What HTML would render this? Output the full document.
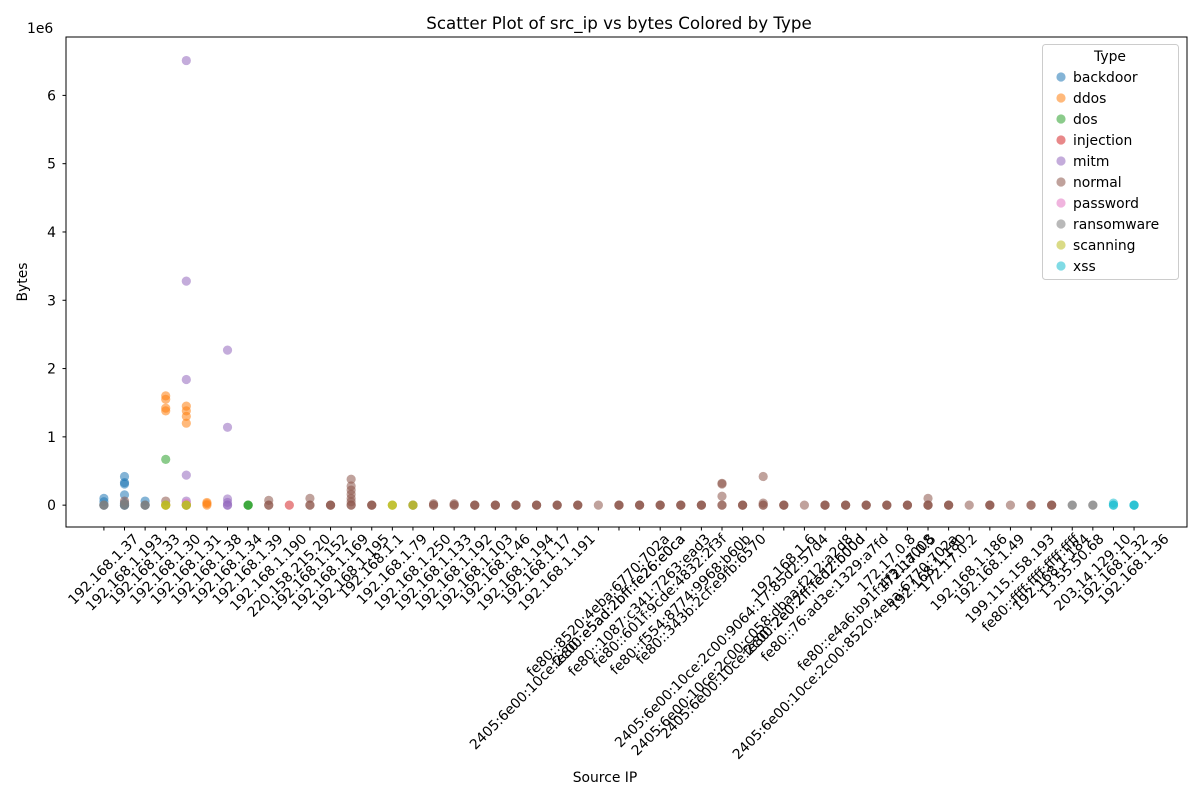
<!DOCTYPE html>
<html><head><meta charset="utf-8"><title>Scatter Plot of src_ip vs bytes Colored by Type</title>
<style>html,body{margin:0;padding:0;background:#fff;}svg{display:block;font-family:"DejaVu Sans","Liberation Sans",sans-serif;}</style>
</head><body>
<svg id="chart" width="1200" height="800" viewBox="0 0 1200 800">
<rect x="0" y="0" width="1200" height="800" fill="#fff"/>
<text x="619" y="29" font-size="16.7" text-anchor="middle" fill="#000">Scatter Plot of src_ip vs bytes Colored by Type</text>
<g id="marks"></g>
<rect x="66" y="37" width="1121" height="490" fill="none" stroke="#000" stroke-width="1"/>
<g id="yaxis"></g>
<g id="xaxis"></g>
<text x="27" y="33" font-size="13.9" fill="#000">1e6</text>
<text x="0" y="0" font-size="13.9" text-anchor="middle" transform="translate(27,282) rotate(-90)" fill="#000">Bytes</text>
<text x="605" y="782" font-size="13.9" text-anchor="middle" fill="#000">Source IP</text>
<g id="legend"></g>
</svg>
<script>
const categories = ["192.168.1.37","192.168.1.193","192.168.1.33","192.168.1.30","192.168.1.31","192.168.1.38","192.168.1.34","192.168.1.39","192.168.1.190","220.158.215.20","192.168.1.152","192.168.1.169","192.168.1.195","192.168.1.1","192.168.1.79","192.168.1.250","192.168.1.133","192.168.1.192","192.168.1.103","192.168.1.46","192.168.1.194","192.168.1.17","192.168.1.191","2405:6e00:10ce:2c00:e5ad:2bff:fe26:e0ca","fe80::8520:4eba:6770:702a","fe80::e5ad:2bff:fe26:e0ca","fe80::1087:c341:7263:ead3","fe80::601f:9cde:4832:2f3f","fe80::f554:8774:9968:b60b","fe80::343b:2cf:e9fb:6570","2405:6e00:10ce:2c00:9064:17:85d2:57d4","2405:6e00:10ce:2c00:c058:dbaa:f212:a2d8","2405:6e00:10ce:2c00:2e0:2ff:fed2:b00d","192.168.1.6","fe80::2e0:2ff:fed2:b00d","fe80::76:ad3e:1329:a7fd","2405:6e00:10ce:2c00:8520:4eba:6770:702a","fe80::e4a6:b91f:4f31:a008","172.17.0.8","172.17.0.5","192.168.1.180","172.17.0.2","192.168.1.186","192.168.1.49","199.115.158.193","fe80::ffff:ffff:ffff:ffff","192.168.1.184","13.55.50.68","203.14.129.10","192.168.1.32","192.168.1.36"];
const yTicks = [0,1,2,3,4,5,6];
const yTickLabels = ["0","1","2","3","4","5","6"];
const typeNames = ["backdoor","ddos","dos","injection","mitm","normal","password","ransomware","scanning","xss"];
const typeColors = ["#1f77b4","#ff7f0e","#2ca02c","#d62728","#9467bd","#8c564b","#e377c2","#7f7f7f","#bcbd22","#17becf"];

const backdoorX = [0,0,0,1,1,1,1,1,1,1,2,2];
const backdoorY = [100000,50000,0,420000,330000,310000,150000,30000,0,0,60000,0];
const ddosX = [3,3,3,3,3,4,4,4,4,4,5,5,5];
const ddosY = [1600000,1550000,1420000,1380000,0,1450000,1380000,1300000,1200000,0,40000,20000,0];
const dosX = [3,7,7,7];
const dosY = [670000,0,0,0];
const injectionX = [9];
const injectionY = [0];
const mitmX = [4,4,4,4,4,4,6,6,6,6,6,6];
const mitmY = [6510000,3280000,1840000,440000,60000,0,2270000,1140000,90000,40000,0,0];
const normalX = [1,3, 8,8,8, 10,10,10, 11,11,11, 12,12,12,12,12,12,12,12, 13,13,13, 15, 16,16,16, 17,17,17, 18,18,18, 19,19,19, 20,20,20, 21,21,21, 22,22,22, 23,23,23, 24, 25,25,25, 26,26,26, 27,27,27, 28,28,28, 29,29,29, 30,30,30,30,30, 31,31,31, 32,32,32,32, 33,33,33, 34, 35,35,35, 36,36,36, 37,37,37, 38,38,38, 39,39,39, 40,40,40,40, 41,41,41, 42, 43,43,43, 44, 45,45, 46,46,46];
const normalY = [60000,60000, 70000,0,0, 100000,0,0, 0,0,0, 380000,280000,220000,160000,100000,50000,0,0, 0,0,0, 0, 20000,0,0, 20000,0,0, 0,0,0, 0,0,0, 0,0,0, 0,0,0, 0,0,0, 0,0,0, 0, 0,0,0, 0,0,0, 0,0,0, 0,0,0, 0,0,0, 320000,310000,130000,0,0, 0,0,0, 420000,30000,0,0, 0,0,0, 0, 0,0,0, 0,0,0, 0,0,0, 0,0,0, 0,0,0, 100000,0,0,0, 0,0,0, 0, 0,0,0, 0, 0,0, 0,0,0];
const passwordX = [4];
const passwordY = [30000];
const ransomwareX = [0,0,0,1,1,1,2,2,2,15,47,47,48,48];
const ransomwareY = [0,0,0,20000,0,0,0,0,0,0,0,0,0,0];
const scanningX = [3,3,3,4,4,4,14,14,14,15,15];
const scanningY = [0,0,0,0,0,0,0,0,0,0,0];
const xssX = [49,49,49,50,50,50];
const xssY = [30000,0,0,0,0,0];

const seriesX = [backdoorX,ddosX,dosX,injectionX,mitmX,normalX,passwordX,ransomwareX,scanningX,xssX];
const seriesY = [backdoorY,ddosY,dosY,injectionY,mitmY,normalY,passwordY,ransomwareY,scanningY,xssY];

const NS = "http://www.w3.org/2000/svg";
const plotL = 66, plotR = 1187, plotT = 37, plotB = 527;
const xMin = -1.84, xMax = 52.57;
const yMin = -320000, yMax = 6855000;
function xScale(i){ return plotL + (i - xMin) / (xMax - xMin) * (plotR - plotL); }
function yScale(v){ return plotB - (v - yMin) / (yMax - yMin) * (plotB - plotT); }

const marks = document.getElementById('marks');
for (let s = 0; s < seriesX.length; s++) {
  const g = document.createElementNS(NS, 'g');
  
  
  for (let k = 0; k < seriesX[s].length; k++) {
    const c = document.createElementNS(NS, 'circle');
    c.setAttribute('cx', xScale(seriesX[s][k]));
    c.setAttribute('cy', yScale(seriesY[s][k]));
    c.setAttribute('r', 4.6);
    c.setAttribute('fill', typeColors[s]);
    c.setAttribute('fill-opacity', 0.55);
    
    
    g.appendChild(c);
  }
  marks.appendChild(g);
}

const yaxis = document.getElementById('yaxis');
for (let i = 0; i < yTicks.length; i++) {
  const y = yScale(yTicks[i] * 1e6);
  const l = document.createElementNS(NS, 'line');
  l.setAttribute('x1', plotL - 3.5); l.setAttribute('x2', plotL);
  l.setAttribute('y1', y); l.setAttribute('y2', y);
  l.setAttribute('stroke', '#000');
  
  
  yaxis.appendChild(l);
  const t = document.createElementNS(NS, 'text');
  t.setAttribute('x', plotL - 10); t.setAttribute('y', y + 5);
  t.setAttribute('font-size', '13.9'); t.setAttribute('text-anchor', 'end');
  t.textContent = yTickLabels[i];
  
  
  yaxis.appendChild(t);
}

const xaxis = document.getElementById('xaxis');
for (let i = 0; i < categories.length; i++) {
  const x = xScale(i);
  const l = document.createElementNS(NS, 'line');
  l.setAttribute('x1', x); l.setAttribute('x2', x);
  l.setAttribute('y1', plotB); l.setAttribute('y2', plotB + 3.5);
  l.setAttribute('stroke', '#000');
  
  
  xaxis.appendChild(l);
  const t = document.createElementNS(NS, 'text');
  t.setAttribute('font-size', '13.9'); t.setAttribute('text-anchor', 'middle');
  t.setAttribute('dominant-baseline', 'central');
  t.textContent = categories[i];
  
  
  xaxis.appendChild(t);
  const L = t.getComputedTextLength();
  const cy = plotB + 5 + (L + 14) * 0.7071 / 2;
  t.setAttribute('x', x); t.setAttribute('y', cy);
  t.setAttribute('transform', 'rotate(-45 ' + x + ' ' + cy + ')');
}

const legend = document.getElementById('legend');
const box = document.createElementNS(NS, 'rect');
box.setAttribute('x', 1042.5); box.setAttribute('y', 44.5);
box.setAttribute('width', 136); box.setAttribute('height', 235);
box.setAttribute('rx', 3); box.setAttribute('fill', '#fff'); box.setAttribute('fill-opacity', 0.8);
box.setAttribute('stroke', '#ccc');


legend.appendChild(box);
const lt = document.createElementNS(NS, 'text');
lt.setAttribute('x', 1110); lt.setAttribute('y', 61);
lt.setAttribute('font-size', '13.9'); lt.setAttribute('text-anchor', 'middle');
lt.textContent = 'Type';


legend.appendChild(lt);
for (let s = 0; s < typeNames.length; s++) {
  const y = 77 + s * 21;
  const c = document.createElementNS(NS, 'circle');
  c.setAttribute('cx', 1061); c.setAttribute('cy', y); c.setAttribute('r', 4.6);
  c.setAttribute('fill', typeColors[s]); c.setAttribute('fill-opacity', 0.55);
  
  
  legend.appendChild(c);
  const t = document.createElementNS(NS, 'text');
  t.setAttribute('x', 1073); t.setAttribute('y', y + 5);
  t.setAttribute('font-size', '13.9');
  t.textContent = typeNames[s];
  
  
  legend.appendChild(t);
}
</script>
</body></html>
